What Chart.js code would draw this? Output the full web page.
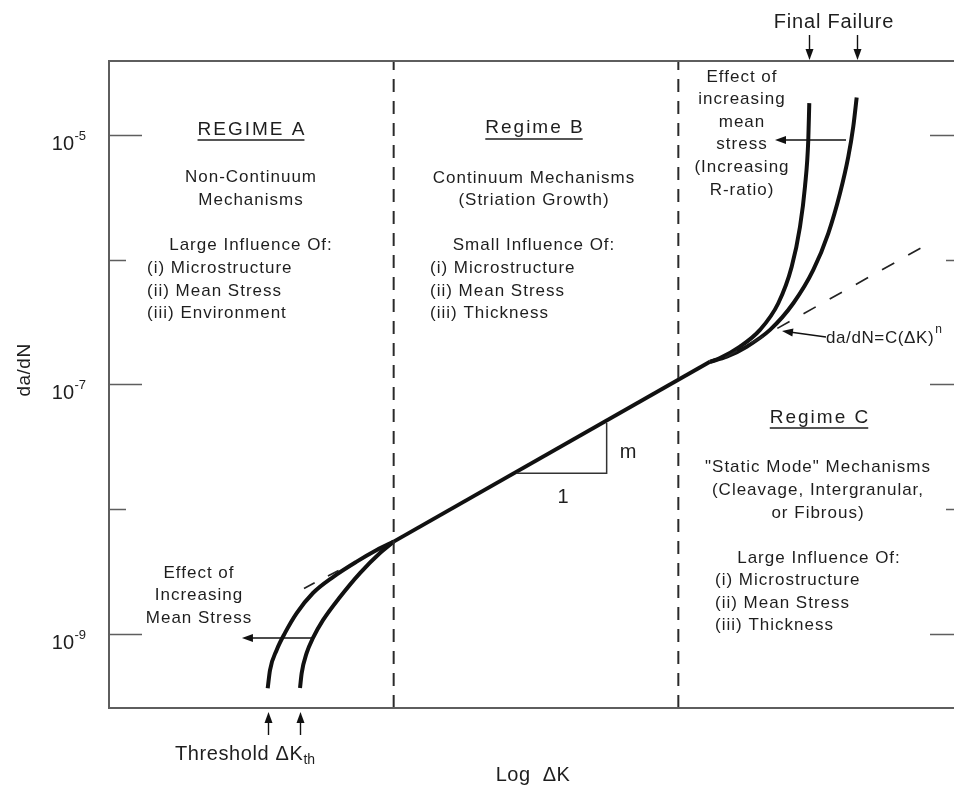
<!DOCTYPE html>
<html>
<head>
<meta charset="utf-8">
<title>Fatigue crack growth regimes</title>
<script src="https://cdn.jsdelivr.net/npm/chart.js@4.4.1/dist/chart.umd.min.js"></script>
<style>
  html, body { margin: 0; padding: 0; background: #fff; overflow: hidden; }
  #wrap { width: 954px; height: 791px; overflow: hidden; position: relative; background: #fff; }
  canvas { display: block; }
</style>
</head>
<body>
<div id="wrap"><canvas id="c" width="975" height="791"></canvas></div>
<script>
// ---- Data: x = log ΔK (arbitrary units, regime borders at 1 and 2), y = da/dN ----

// Near-threshold branch, higher mean stress (shifted left)
const LOW_HIGH_R_K    = [0.5575, 0.5656, 0.5891, 0.6183, 0.6594, 0.7166, 0.7869, 0.8701, 0.9404, 1.0];
const LOW_HIGH_R_RATE = [3.67e-10, 5.14e-10, 7.45e-10, 1.02e-9, 1.47e-9, 2.13e-9, 2.86e-9, 3.80e-9, 4.71e-9, 5.50e-9];

// Near-threshold branch, lower mean stress
const LOW_LOW_R_K     = [0.671, 0.6769, 0.6945, 0.7166, 0.7517, 0.8115, 0.8817, 0.952, 1.0];
const LOW_LOW_R_RATE  = [3.69e-10, 4.86e-10, 7.05e-10, 9.29e-10, 1.29e-9, 1.98e-9, 3.08e-9, 4.46e-9, 5.50e-9];

// Paris-law (Regime B) straight segment
const PARIS_K         = [1.0, 2.111];
const PARIS_RATE      = [5.50e-9, 1.52e-7];

// Dashed extrapolations of da/dN = C(ΔK)^n
const PARIS_EXT_LOW_K     = [0.685, 0.8466];
const PARIS_EXT_LOW_RATE  = [2.32e-9, 3.61e-9];
const PARIS_EXT_HIGH_K    = [2.1639, 2.8594];
const PARIS_EXT_HIGH_RATE = [1.64e-7, 1.27e-6];

// Final-failure branch, higher mean stress
const HIGH_HIGH_R_K    = [2.111, 2.1463, 2.2166, 2.2868, 2.3511, 2.3982, 2.4274, 2.4449, 2.4565, 2.46];
const HIGH_HIGH_R_RATE = [1.52e-7, 1.63e-7, 2.01e-7, 2.74e-7, 4.48e-7, 8.79e-7, 1.84e-6, 3.86e-6, 9.12e-6, 1.80e-5];

// Final-failure branch, lower mean stress
const HIGH_LOW_R_K     = [2.111, 2.1699, 2.2401, 2.322, 2.4039, 2.4741, 2.5268, 2.5679, 2.5971, 2.6146, 2.6265];
const HIGH_LOW_R_RATE  = [1.52e-7, 1.67e-7, 2.01e-7, 2.74e-7, 4.48e-7, 8.28e-7, 1.63e-6, 3.41e-6, 6.70e-6, 1.17e-5, 2.00e-5];

// Regime boundaries
const REGIME_BORDERS = [1, 2];

// Slope triangle (run of 1, rise of m)
const SLOPE_K    = [1.4323, 1.7482, 1.7482];
const SLOPE_RATE = [1.94e-8, 1.94e-8, 4.91e-8];

// Axis limits and ticks
const K_MIN = 0, K_MAX = 3;
const RATE_MIN = 2.551e-10, RATE_MAX = 3.92e-5;
const MAJOR_TICKS = [1e-5, 1e-7, 1e-9];
const MAJOR_TICK_EXPONENTS = ['-5', '-7', '-9'];
const MINOR_TICKS = [1e-6, 1e-8];

// Horizontal "effect of mean stress" arrows and formula pointer: [fromK, fromRate, toK, toRate]
const ARROW_MEAN_STRESS_LOW  = [0.7166, 9.29e-10, 0.467, 9.29e-10];
const ARROW_MEAN_STRESS_HIGH = [2.589, 9.12e-6, 2.3396, 9.12e-6];
const ARROW_FORMULA          = [2.5187, 2.404e-7, 2.3641, 2.685e-7];

const FONT = "'Liberation Sans', Arial, Helvetica, sans-serif";
const INK = '#111';
const TEXT = '#1e1e1e';
const FRAME = '#5e5e5e';

const pts = (xs, ys) => xs.map((x, i) => ({ x, y: ys[i] }));

function curve(xs, ys, extra) {
  return Object.assign({
    data: pts(xs, ys), showLine: true, pointRadius: 0, borderColor: INK,
    borderWidth: 4, cubicInterpolationMode: 'monotone', fill: false, borderCapStyle: 'butt'
  }, extra || {});
}

const datasets = [
  ...REGIME_BORDERS.map(k => curve([k, k], [RATE_MIN, RATE_MAX], {
    borderWidth: 2, borderColor: '#2a2a2a', borderDash: [13, 9], cubicInterpolationMode: 'default', tension: 0
  })),
  curve(PARIS_EXT_LOW_K, PARIS_EXT_LOW_RATE, { borderWidth: 1.7, borderColor: '#222', borderDash: [12, 15], cubicInterpolationMode: 'default', tension: 0 }),
  curve(PARIS_EXT_HIGH_K, PARIS_EXT_HIGH_RATE, { borderWidth: 1.7, borderColor: '#222', borderDash: [14, 16], cubicInterpolationMode: 'default', tension: 0 }),
  curve(SLOPE_K, SLOPE_RATE, { borderWidth: 1.5, borderColor: '#333', cubicInterpolationMode: 'default', tension: 0 }),
  curve(LOW_HIGH_R_K, LOW_HIGH_R_RATE),
  curve(LOW_LOW_R_K, LOW_LOW_R_RATE),
  curve(PARIS_K, PARIS_RATE, { cubicInterpolationMode: 'default', tension: 0 }),
  curve(HIGH_HIGH_R_K, HIGH_HIGH_R_RATE),
  curve(HIGH_LOW_R_K, HIGH_LOW_R_RATE)
];

function drawText(ctx, s, x, y, o) {
  o = o || {};
  ctx.save();
  ctx.font = (o.weight || 'normal') + ' ' + (o.size || 17) + 'px ' + (o.family || FONT);
  if ('letterSpacing' in ctx) ctx.letterSpacing = (o.spacing == null ? 1 : o.spacing) + 'px';
  ctx.fillStyle = o.color || TEXT;
  ctx.textAlign = o.align || 'center';
  ctx.textBaseline = o.baseline || 'middle';
  ctx.fillText(s, x, y);
  const w = ctx.measureText(s).width;
  if (o.underline) {
    ctx.strokeStyle = o.color || TEXT;
    ctx.lineWidth = 1.5;
    let x0 = x;
    if (ctx.textAlign === 'center') x0 = x - w / 2;
    else if (ctx.textAlign === 'right') x0 = x - w;
    ctx.beginPath();
    ctx.moveTo(x0, y + o.underline);
    ctx.lineTo(x0 + w - (o.spacing == null ? 1 : o.spacing), y + o.underline);
    ctx.stroke();
  }
  ctx.restore();
  return w;
}

function arrow(ctx, x1, y1, x2, y2) {
  const a = Math.atan2(y2 - y1, x2 - x1);
  const L = 11, W = 4;
  const c = Math.cos(a), s = Math.sin(a);
  ctx.save();
  ctx.strokeStyle = INK; ctx.fillStyle = INK; ctx.lineWidth = 1.4;
  ctx.beginPath();
  ctx.moveTo(x1, y1);
  ctx.lineTo(x2 - L * 0.7 * c, y2 - L * 0.7 * s);
  ctx.stroke();
  ctx.beginPath();
  ctx.moveTo(x2, y2);
  ctx.lineTo(x2 - L * c + W * s, y2 - L * s - W * c);
  ctx.lineTo(x2 - L * c - W * s, y2 - L * s + W * c);
  ctx.closePath();
  ctx.fill();
  ctx.restore();
}

const decor = {
  id: 'decor',
  afterDatasetsDraw(chart) {
    const ctx = chart.ctx;
    const xs = chart.scales.x, ys = chart.scales.y;
    const A = chart.chartArea;
    const px = v => xs.getPixelForValue(v);
    const py = v => ys.getPixelForValue(v);

    // Frame
    ctx.save();
    ctx.strokeStyle = FRAME;
    ctx.lineWidth = 2;
    ctx.strokeRect(A.left, A.top, A.right - A.left, A.bottom - A.top);

    // Ticks on both vertical sides (pointing inward)
    ctx.lineWidth = 1.6;
    const tick = (v, len) => {
      const y = Math.round(py(v)) + 0.5;
      ctx.beginPath();
      ctx.moveTo(A.left, y); ctx.lineTo(A.left + len, y);
      ctx.moveTo(A.right, y); ctx.lineTo(A.right - len, y);
      ctx.stroke();
    };
    MAJOR_TICKS.forEach(v => tick(v, 33));
    MINOR_TICKS.forEach(v => tick(v, 17));
    ctx.restore();

    // Tick labels 10^n
    MAJOR_TICKS.forEach((v, i) => {
      const y = py(v);
      drawText(ctx, '10', 74, y + 15, { size: 20, align: 'right', baseline: 'alphabetic', spacing: 0 });
      drawText(ctx, MAJOR_TICK_EXPONENTS[i], 74.5, y + 5, { size: 13, align: 'left', baseline: 'alphabetic', spacing: 0 });
    });

    // Axis titles
    ctx.save();
    ctx.translate(25, 370);
    ctx.rotate(-Math.PI / 2);
    drawText(ctx, 'da/dN', 0, 0, { size: 19, spacing: 0.5 });
    ctx.restore();
    drawText(ctx, 'Log  ΔK', (A.left + A.right) / 2 - 3, 775, { size: 20, spacing: 0.5 });

    // Regime A
    drawText(ctx, 'REGIME A', 252, 130, { size: 19, spacing: 2, underline: 10 });
    drawText(ctx, 'Non-Continuum', 251, 177);
    drawText(ctx, 'Mechanisms', 251, 200);
    drawText(ctx, 'Large Influence Of:', 251, 245);
    drawText(ctx, '(i) Microstructure', 147, 268, { align: 'left' });
    drawText(ctx, '(ii) Mean Stress', 147, 291, { align: 'left' });
    drawText(ctx, '(iii) Environment', 147, 313, { align: 'left' });

    // Regime B
    drawText(ctx, 'Regime B', 535, 128, { size: 19, spacing: 2, underline: 11 });
    drawText(ctx, 'Continuum Mechanisms', 534, 178);
    drawText(ctx, '(Striation Growth)', 534, 200);
    drawText(ctx, 'Small Influence Of:', 534, 245);
    drawText(ctx, '(i) Microstructure', 430, 268, { align: 'left' });
    drawText(ctx, '(ii) Mean Stress', 430, 291, { align: 'left' });
    drawText(ctx, '(iii) Thickness', 430, 313, { align: 'left' });

    // Regime C
    drawText(ctx, 'Regime C', 820, 418, { size: 19, spacing: 2, underline: 10 });
    drawText(ctx, '"Static Mode" Mechanisms', 818, 467);
    drawText(ctx, '(Cleavage, Intergranular,', 818, 490);
    drawText(ctx, 'or Fibrous)', 818, 513);
    drawText(ctx, 'Large Influence Of:', 819, 558);
    drawText(ctx, '(i) Microstructure', 715, 580, { align: 'left' });
    drawText(ctx, '(ii) Mean Stress', 715, 603, { align: 'left' });
    drawText(ctx, '(iii) Thickness', 715, 625, { align: 'left' });

    // Mean-stress notes
    ['Effect of', 'increasing', 'mean', 'stress', '(Increasing', 'R-ratio)']
      .forEach((s, i) => drawText(ctx, s, 742, 77 + i * 22.6));
    ['Effect of', 'Increasing', 'Mean Stress']
      .forEach((s, i) => drawText(ctx, s, 199, 573 + i * 22.6));

    // Slope labels
    drawText(ctx, 'm', 628, 452, { size: 20, spacing: 0 });
    drawText(ctx, '1', 563, 497, { size: 20, spacing: 0 });

    // Paris law formula
    const fw = drawText(ctx, 'da/dN=C(ΔK)', 826, 338, { size: 17, align: 'left', spacing: 0.6 });
    drawText(ctx, 'n', 826 + fw + 1, 330, { size: 12, align: 'left', spacing: 0 });

    // Arrows inside the plot
    [ARROW_MEAN_STRESS_LOW, ARROW_MEAN_STRESS_HIGH, ARROW_FORMULA].forEach(a =>
      arrow(ctx, px(a[0]), py(a[1]), px(a[2]), py(a[3])));

    // Threshold arrows (below the plot, at the start of each branch)
    [LOW_HIGH_R_K[0], LOW_LOW_R_K[0]].forEach(k => {
      const x = Math.round(px(k)) + 0.5;
      arrow(ctx, x, A.bottom + 27, x, A.bottom + 4);
    });
    const tw = drawText(ctx, 'Threshold ΔK', 175, 754, { size: 20, align: 'left', spacing: 0.6 });
    drawText(ctx, 'th', 175 + tw, 760, { size: 14, align: 'left', spacing: 0 });

    // Final failure arrows (above the plot, at the end of each branch)
    [HIGH_HIGH_R_K[HIGH_HIGH_R_K.length - 1], HIGH_LOW_R_K[HIGH_LOW_R_K.length - 1]].forEach(k => {
      const x = Math.round(px(k)) + 0.5;
      arrow(ctx, x, A.top - 26, x, A.top - 1);
    });
    drawText(ctx, 'Final Failure', 834, 22, { size: 20, spacing: 0.8 });
  }
};

new Chart(document.getElementById('c'), {
  type: 'scatter',
  data: { datasets },
  options: {
    responsive: false,
    animation: false,
    devicePixelRatio: 1,
    layout: { padding: { left: 109, top: 61, right: 12, bottom: 83 } },
    plugins: { legend: { display: false }, tooltip: { enabled: false } },
    events: [],
    scales: {
      x: { type: 'linear', min: K_MIN, max: K_MAX, display: false },
      y: { type: 'logarithmic', min: RATE_MIN, max: RATE_MAX, display: false }
    }
  },
  plugins: [decor]
});
</script>
</body>
</html>
